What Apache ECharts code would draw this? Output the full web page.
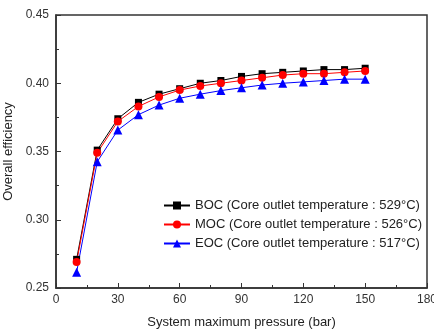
<!DOCTYPE html>
<html>
<head>
<meta charset="utf-8">
<script src="https://cdn.jsdelivr.net/npm/echarts@6/dist/echarts.min.js"></script>
<style>
  html, body { margin: 0; padding: 0; background: #fff; }
  #chart { width: 434px; height: 329px; }
</style>
</head>
<body>
<div id="chart"></div>
<script>
// pressure (bar)
const pressure = [10, 20, 30, 40, 50, 60, 70, 80, 90, 100, 110, 120, 130, 140, 150];
// overall efficiency per core state
const bocEff = [0.271, 0.351, 0.374, 0.386, 0.392, 0.396, 0.400, 0.402, 0.405, 0.407, 0.408, 0.409, 0.410, 0.410, 0.411];
const mocEff = [0.269, 0.349, 0.372, 0.383, 0.390, 0.395, 0.398, 0.400, 0.402, 0.404, 0.406, 0.407, 0.407, 0.408, 0.409];
const eocEff = [0.2615, 0.3425, 0.3657, 0.377, 0.384, 0.389, 0.392, 0.3946, 0.3967, 0.3987, 0.400, 0.401, 0.402, 0.403, 0.403];
const seriesNames = [
	"BOC (Core outlet temperature : 529°C)",
	"MOC (Core outlet temperature : 526°C)",
	"EOC (Core outlet temperature : 517°C)",
];

const toPairs = vals => pressure.map((p, i) => [p, vals[i]]);

const chart = echarts.init(document.getElementById("chart"));
const font = "Liberation Sans, Arial, sans-serif";

const axisCommon = {
	axisLine: { show: true, lineStyle: { color: "#333", width: 1.5 } },
	axisTick: { show: true, inside: true, length: 5, lineStyle: { color: "#333" } },
	minorTick: { show: true, splitNumber: 2, length: 3, lineStyle: { color: "#333" } },
	splitLine: { show: false },
	axisLabel: { color: "#333", fontSize: 12, fontFamily: font },
	nameLocation: "middle",
	nameTextStyle: { color: "#222", fontSize: 13, fontFamily: font },
};

const mkSeries = (name, vals, color, symbol, size) => ({
	name,
	type: "line",
	data: toPairs(vals),
	symbol,
	symbolSize: size,
	itemStyle: { color },
	lineStyle: { color, width: 1 },
});

chart.setOption({
	animation: false,
	grid: {
		left: 56, right: 7, top: 15, bottom: 41,
		outerBoundsMode: "none",
		show: true, borderColor: "#333", borderWidth: 1.5,
	},
	legend: {
		orient: "vertical",
		left: 158,
		top: 194,
		itemWidth: 26,
		itemHeight: 10,
		itemGap: 6,
		textStyle: { color: "#222", fontSize: 13, fontFamily: font },
	},
	xAxis: {
		...axisCommon,
		type: "value",
		min: 0, max: 180, interval: 30,
		name: "System maximum pressure (bar)",
		nameGap: 28,
		axisLabel: { ...axisCommon.axisLabel, margin: 6 },
	},
	yAxis: {
		...axisCommon,
		type: "value",
		min: 0.25, max: 0.45, interval: 0.05,
		name: "Overall efficiency",
		nameGap: 36,
		axisLabel: { ...axisCommon.axisLabel, margin: 7, formatter: v => v.toFixed(2) },
	},
	series: [
		mkSeries(seriesNames[0], bocEff, "#000", "rect", 7),
		mkSeries(seriesNames[1], mocEff, "#f00", "circle", 8),
		mkSeries(seriesNames[2], eocEff, "#00f", "triangle", 9),
	],
});
</script>
</body>
</html>
